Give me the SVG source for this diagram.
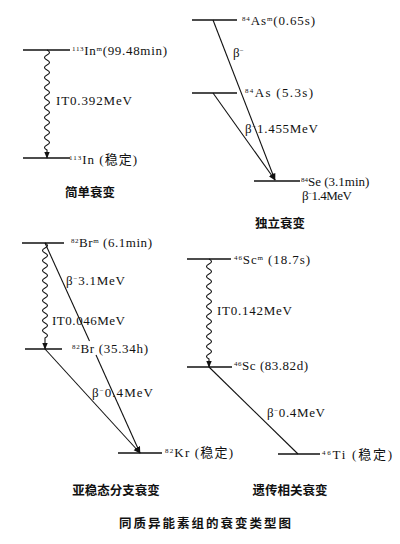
<svg xmlns="http://www.w3.org/2000/svg" width="400" height="544" viewBox="0 0 400 544">
<defs>
<marker id="ah" viewBox="0 0 10 10" refX="9" refY="5" markerWidth="7" markerHeight="7" orient="auto" markerUnits="userSpaceOnUse">
<path d="M0,1 L10,5 L0,9 Z" fill="#111"/>
</marker>
<style>
.lv{stroke:#111;stroke-width:1.6;fill:none}
.ln{stroke:#111;stroke-width:1.1;fill:none}
.wv{stroke:#111;stroke-width:1.1;fill:none}
text{font-family:"Liberation Serif","Noto Sans CJK SC",serif;font-size:13px;fill:#111}
.sup{font-size:7px}
.cap{font-family:"Noto Sans CJK SC",sans-serif;font-size:12.5px;font-weight:bold;text-anchor:middle}
.ttl{font-family:"Noto Sans CJK SC",sans-serif;font-size:12.5px;font-weight:bold;text-anchor:middle;letter-spacing:2px}
</style>
</defs>
<rect width="400" height="544" fill="#fff"/>

<g id="connectors">
<path class="wv" d="M47,50 q5,2.5 0,5 t0,5 t0,5 t0,5 t0,5 t0,5 t0,5 t0,5 t0,5 t0,5 t0,5 t0,5 t0,5 t0,5 t0,5 t0,5 t0,5 t0,5 t0,5 t0,5 L47,158" marker-end="url(#ah)"/>
<line class="ln" x1="213" y1="20" x2="275" y2="180" marker-end="url(#ah)"/>
<line class="ln" x1="213" y1="93" x2="275" y2="180" marker-end="url(#ah)"/>
<path class="wv" d="M45,243 q5,2.5 0,5 t0,5 t0,5 t0,5 t0,5 t0,5 t0,5 t0,5 t0,5 t0,5 t0,5 t0,5 t0,5 t0,5 t0,5 t0,5 t0,5 t0,5 t0,5 L45,349" marker-end="url(#ah)"/>
<line class="ln" x1="45" y1="243" x2="89.5" y2="341"/>
<line class="ln" x1="96" y1="355" x2="140" y2="453" marker-end="url(#ah)"/>
<line class="ln" x1="45" y1="349" x2="140" y2="453" marker-end="url(#ah)"/>
<path class="wv" d="M209,259 q5,2.5 0,5 t0,5 t0,5 t0,5 t0,5 t0,5 t0,5 t0,5 t0,5 t0,5 t0,5 t0,5 t0,5 t0,5 t0,5 t0,5 t0,5 t0,5 t0,5 t0,5 L209,367" marker-end="url(#ah)"/>
<line class="ln" x1="209" y1="367" x2="298" y2="454"/>
</g>

<g id="n-In113m"><line class="lv" x1="23" y1="50" x2="70" y2="50"/><text x="72" y="55" textLength="95" lengthAdjust="spacing"><tspan class="sup" dy="-4">113</tspan><tspan dy="4">In</tspan><tspan class="sup" dy="-4">m</tspan><tspan dy="4">(99.48min)</tspan></text></g>
<g id="n-In113"><line class="lv" x1="23" y1="158" x2="70" y2="158"/><text x="69" y="164" textLength="68" lengthAdjust="spacing"><tspan class="sup" dy="-4">113</tspan><tspan dy="4">In (稳定)</tspan></text></g>
<text x="56" y="105" textLength="76" lengthAdjust="spacing">IT0.392MeV</text>
<text class="cap" x="90" y="197">简单衰变</text>

<g id="n-As84m"><line class="lv" x1="192" y1="20" x2="237" y2="20"/><text x="242" y="25" textLength="73" lengthAdjust="spacing"><tspan class="sup" dy="-4">84</tspan><tspan dy="4">As</tspan><tspan class="sup" dy="-4">m</tspan><tspan dy="4">(0.65s)</tspan></text></g>
<g id="n-As84"><line class="lv" x1="192" y1="93" x2="237" y2="93"/><text x="245" y="97" textLength="68" lengthAdjust="spacing"><tspan class="sup" dy="-4">84</tspan><tspan dy="4">As (5.3s)</tspan></text></g>
<g id="n-Se84"><line class="lv" x1="254" y1="181" x2="300" y2="181"/><text x="301" y="186" font-size="12"><tspan class="sup" dy="-4">84</tspan><tspan dy="4">Se (3.1min)</tspan></text><text x="302" y="200" textLength="50" lengthAdjust="spacing">β<tspan class="sup" dy="-4">−</tspan><tspan dy="4">1.4MeV</tspan></text></g>
<text x="233" y="57">β<tspan class="sup" dy="-4">−</tspan></text>
<text x="245" y="133" textLength="73" lengthAdjust="spacing">β<tspan class="sup" dy="-4">−</tspan><tspan dy="4">1.455MeV</tspan></text>
<text class="cap" x="280" y="228">独立衰变</text>

<g id="n-Br82m"><line class="lv" x1="22" y1="243" x2="64" y2="243"/><text x="71" y="247" textLength="81" lengthAdjust="spacing"><tspan class="sup" dy="-4">82</tspan><tspan dy="4">Br</tspan><tspan class="sup" dy="-4">m</tspan><tspan dy="4"> (6.1min)</tspan></text></g>
<g id="n-Br82"><line class="lv" x1="25" y1="349" x2="62" y2="349"/><text x="72" y="353" textLength="76" lengthAdjust="spacing"><tspan class="sup" dy="-4">82</tspan><tspan dy="4">Br (35.34h)</tspan></text></g>
<g id="n-Kr82"><line class="lv" x1="118" y1="453" x2="162" y2="453"/><text x="165" y="457" textLength="68" lengthAdjust="spacing"><tspan class="sup" dy="-4">82</tspan><tspan dy="4">Kr (稳定)</tspan></text></g>
<text x="66" y="285" textLength="59" lengthAdjust="spacing">β<tspan class="sup" dy="-4">−</tspan><tspan dy="4">3.1MeV</tspan></text>
<text x="52" y="325" textLength="73" lengthAdjust="spacing">IT0.046MeV</text>
<text x="92" y="397" textLength="61" lengthAdjust="spacing">β<tspan class="sup" dy="-4">−</tspan><tspan dy="4">0.4MeV</tspan></text>
<text class="cap" x="116" y="495">亚稳态分支衰变</text>

<g id="n-Sc46m"><line class="lv" x1="187" y1="259" x2="231" y2="259"/><text x="234" y="264" textLength="76" lengthAdjust="spacing"><tspan class="sup" dy="-4">46</tspan><tspan dy="4">Sc</tspan><tspan class="sup" dy="-4">m</tspan><tspan dy="4"> (18.7s)</tspan></text></g>
<g id="n-Sc46"><line class="lv" x1="187" y1="367" x2="232" y2="367"/><text x="234" y="370" textLength="74" lengthAdjust="spacing"><tspan class="sup" dy="-4">46</tspan><tspan dy="4">Sc (83.82d)</tspan></text></g>
<g id="n-Ti46"><line class="lv" x1="278" y1="454" x2="320" y2="454"/><text x="322" y="459" textLength="70" lengthAdjust="spacing"><tspan class="sup" dy="-4">46</tspan><tspan dy="4">Ti (稳定)</tspan></text></g>
<text x="217" y="315" textLength="75" lengthAdjust="spacing">IT0.142MeV</text>
<text x="267" y="417" textLength="58" lengthAdjust="spacing">β<tspan class="sup" dy="-4">−</tspan><tspan dy="4">0.4MeV</tspan></text>
<text class="cap" x="290" y="495">遗传相关衰变</text>

<text class="ttl" x="206" y="528">同质异能素组的衰变类型图</text>
</svg>
